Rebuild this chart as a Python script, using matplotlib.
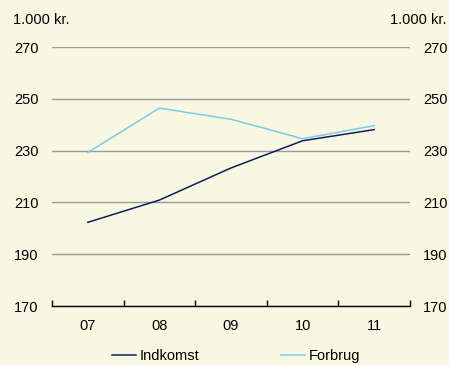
import matplotlib.pyplot as plt
from matplotlib.ticker import FixedLocator

# Household income vs. consumption, 1.000 kr.
years = ['07', '08', '09', '10', '11']
indkomst = [202.3, 210.9, 223.3, 233.8, 238.1]
forbrug = [229.3, 246.4, 242.1, 234.6, 239.6]
yticks = [170, 190, 210, 230, 250, 270]

bg = '#f8f7e1'
plt.rcParams['font.family'] = ['Liberation Sans', 'DejaVu Sans']
plt.rcParams['font.size'] = 10.5

fig = plt.figure(figsize=(4.49, 3.65), dpi=100, facecolor=bg)
ax = fig.add_axes([52 / 449, 1 - 306 / 365, (410 - 52) / 449, (306 - 47) / 365])
ax.set_facecolor(bg)

x = range(len(years))
ax.plot(x, indkomst, color='#0d1f5c', lw=1.1, label='Indkomst')
ax.plot(x, forbrug, color='#7ecbe4', lw=1.1, label='Forbrug')

ax.set_xlim(-0.5, len(years) - 0.5)
ax.set_ylim(170, 270)
ax.set_yticks(yticks)
ax.yaxis.grid(True, color='#9a9a9a', lw=1)
ax.set_axisbelow(True)
ax.tick_params(axis='y', length=0, labelleft=True, labelright=True, pad=9.5)

# tick marks between categories, labels centred on each year
ax.xaxis.set_major_locator(FixedLocator([i - 0.5 for i in range(len(years) + 1)]))
ax.xaxis.set_minor_locator(FixedLocator(list(x)))
ax.xaxis.set_major_formatter(plt.NullFormatter())
ax.set_xticks(list(x), years, minor=True)
ax.tick_params(axis='x', which='major', direction='in', length=4, width=1, color='black')
ax.tick_params(axis='x', which='minor', length=0, pad=9)

for s in ['top', 'left', 'right']:
    ax.spines[s].set_visible(False)
ax.spines['bottom'].set_color('black')
ax.spines['bottom'].set_linewidth(1)

fig.text(13 / 449, 1 - 20 / 365, '1.000 kr.', ha='left', va='center')
fig.text(447 / 449, 1 - 20 / 365, '1.000 kr.', ha='right', va='center')

fig.legend(loc='center', bbox_to_anchor=(0.525, 1 - 356 / 365), ncol=2, frameon=False,
           handlelength=1.7, handletextpad=0.2, columnspacing=5.6)

fig.savefig('out.png', dpi=100, facecolor=bg)
